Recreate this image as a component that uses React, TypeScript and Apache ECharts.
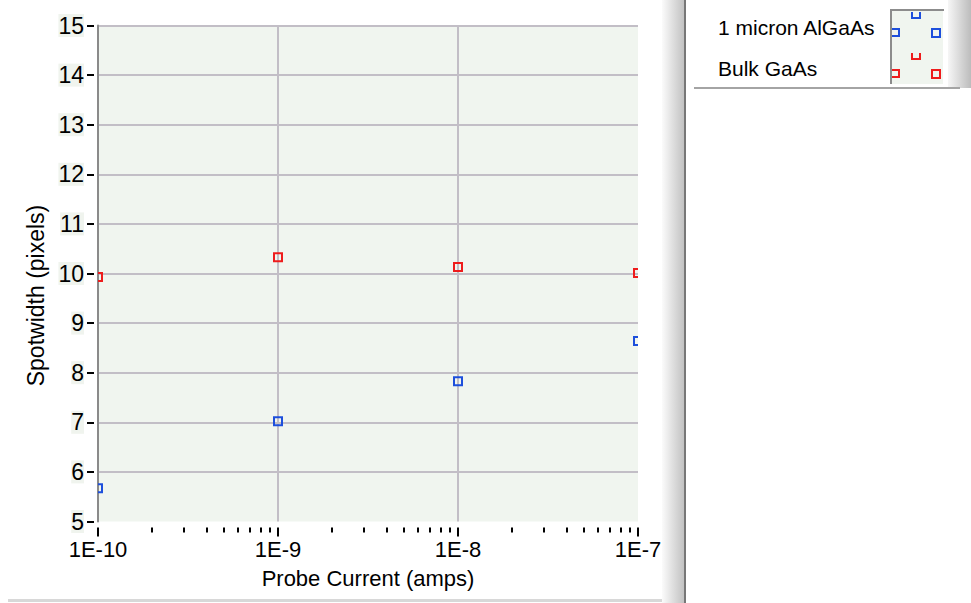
import React, { useEffect, useRef } from "react";
import * as echarts from "echarts";

const probeCurrents = [1e-10, 1e-9, 1e-8, 1e-7];
const alGaAsValues = [5.67, 7.02, 7.83, 8.64];
const bulkGaAsValues = [9.93, 10.33, 10.13, 10.01];
const seriesNames = ["1 micron AlGaAs", "Bulk GaAs"];
const seriesColors = ["#1d4fdc", "#ee1c1c"];

const FONT = "Liberation Sans";

function makeSeries(name: string, values: number[], color: string) {
  return {
    type: "custom",
    name,
    clip: true,
    z: 3,
    encode: { x: 0, y: 1 },
    data: probeCurrents.map((x, i) => [x, values[i]]),
    renderItem: (_params: any, api: any) => {
      const p = api.coord([api.value(0), api.value(1)]);
      return {
        type: "rect",
        shape: { x: p[0] - 4, y: p[1] - 4, width: 8, height: 8 },
        style: { fill: "rgba(0,0,0,0)", stroke: color, lineWidth: 2 },
      };
    },
  };
}

export default function App() {
  const ref = useRef<HTMLDivElement>(null);
  useEffect(() => {
    if (!ref.current) return;
    const chart = echarts.init(ref.current, null, { renderer: "svg" });
    const legendMarker = (color: string, top: number) => [
      { type: "polyline", shape: { points: [[892, top], [899, top], [899, top + 7], [892, top + 7]] }, style: { fill: "none", stroke: color, lineWidth: 2 } },
      { type: "polyline", shape: { points: [[912, top - 17], [912, top - 11], [920, top - 11], [920, top - 17]] }, style: { fill: "none", stroke: color, lineWidth: 2 } },
      { type: "rect", shape: { x: 932, y: top, width: 8, height: 8 }, style: { fill: "none", stroke: color, lineWidth: 2 } },
    ];
    chart.setOption({
      animation: false,
      backgroundColor: "#ffffff",
      textStyle: { fontFamily: FONT },
      grid: {
        left: 98,
        right: 333,
        top: 25.5,
        bottom: 81.5,
        show: true,
        backgroundColor: "#f0f5ef",
        borderWidth: 0,
      },
      xAxis: [
        {
          type: "log",
          logBase: 10,
          min: 1e-10,
          max: 1e-7,
          offset: 6,
          name: "Probe Current (amps)",
          nameLocation: "middle",
          nameGap: 40,
          nameTextStyle: { fontSize: 22, color: "#000", fontFamily: FONT },
          axisLine: { show: false },
          axisTick: { show: true, length: 9, lineStyle: { color: "#000", width: 2 } },
          minorTick: { show: true, splitNumber: 9, length: 5, lineStyle: { color: "#000", width: 2 } },
          axisLabel: {
            margin: 11,
            fontSize: 22,
            color: "#000",
            fontFamily: FONT,
            formatter: (v: number) => "1E" + Math.round(Math.log10(v)),
          },
          splitLine: {
            show: true,
            showMinLine: false,
            showMaxLine: false,
            lineStyle: { color: "#c2bec6", width: 2 },
          },
        },
      ],
      yAxis: [
        {
          type: "value",
          min: 5,
          max: 15,
          interval: 1,
          position: "left",
          offset: 4,
          axisLine: { show: false },
          axisTick: { show: true, length: 7, lineStyle: { color: "#000", width: 2 } },
          axisLabel: {
            margin: 10,
            fontSize: 23,
            color: "#000",
            fontFamily: FONT,
            backgroundColor: "#f0f4ee",
          },
          splitLine: {
            show: true,
            showMinLine: false,
            lineStyle: { color: "#c2bec6", width: 2 },
          },
        },
        {
          type: "value",
          min: 5,
          max: 15,
          interval: 1,
          position: "left",
          offset: 0,
          name: "Spotwidth (pixels)",
          nameLocation: "middle",
          nameGap: 51,
          nameTextStyle: { fontSize: 23, color: "#000", fontFamily: FONT, padding: [0, 44, 0, 0] },
          axisLine: { show: true, lineStyle: { color: "#8a8a8a", width: 2 } },
          axisTick: { show: false },
          axisLabel: { show: false },
          splitLine: { show: false },
        },
      ],
      series: [
        makeSeries(seriesNames[0], alGaAsValues, seriesColors[0]),
        makeSeries(seriesNames[1], bulkGaAsValues, seriesColors[1]),
      ],
      graphic: [
        {
          type: "rect",
          shape: { x: 662, y: 0, width: 22, height: 603 },
          style: {
            fill: new echarts.graphic.LinearGradient(0, 0, 1, 0, [
              { offset: 0, color: "#fbfbfb" },
              { offset: 1, color: "#c2c2c2" },
            ]),
          },
        },
        { type: "rect", shape: { x: 684, y: 0, width: 2, height: 603 }, style: { fill: "#777777" } },
        {
          type: "rect",
          shape: { x: 948, y: 0, width: 23, height: 88 },
          style: {
            fill: new echarts.graphic.LinearGradient(0, 0, 1, 0, [
              { offset: 0, color: "#f6f6f6" },
              { offset: 1, color: "#bcbcbc" },
            ]),
          },
        },
        { type: "rect", shape: { x: 694, y: 87, width: 266, height: 2 }, style: { fill: "#a4a4a4" } },
        { type: "rect", shape: { x: 8, y: 599, width: 654, height: 3 }, style: { fill: "#d8d8d8" } },
        { type: "rect", shape: { x: 891, y: 10, width: 52, height: 74 }, style: { fill: "#f0f5ef" } },
        { type: "line", shape: { x1: 891, y1: 9, x2: 891, y2: 84 }, style: { stroke: "#8c8c8c", lineWidth: 2 } },
        { type: "line", shape: { x1: 890, y1: 10, x2: 944, y2: 10 }, style: { stroke: "#8c8c8c", lineWidth: 2 } },
        ...legendMarker(seriesColors[0], 29),
        ...legendMarker(seriesColors[1], 70),
        {
          type: "text",
          x: 718,
          y: 27,
          style: { text: seriesNames[0], fontSize: 21, fontFamily: FONT, fill: "#000", verticalAlign: "middle", align: "left" },
        },
        {
          type: "text",
          x: 718,
          y: 68,
          style: { text: seriesNames[1], fontSize: 21, fontFamily: FONT, fill: "#000", verticalAlign: "middle", align: "left" },
        },
      ],
    });
    return () => chart.dispose();
  }, []);
  return (
    <div
      ref={ref}
      style={{ position: "fixed", left: 0, top: 0, width: 971, height: 603 }}
    />
  );
}
